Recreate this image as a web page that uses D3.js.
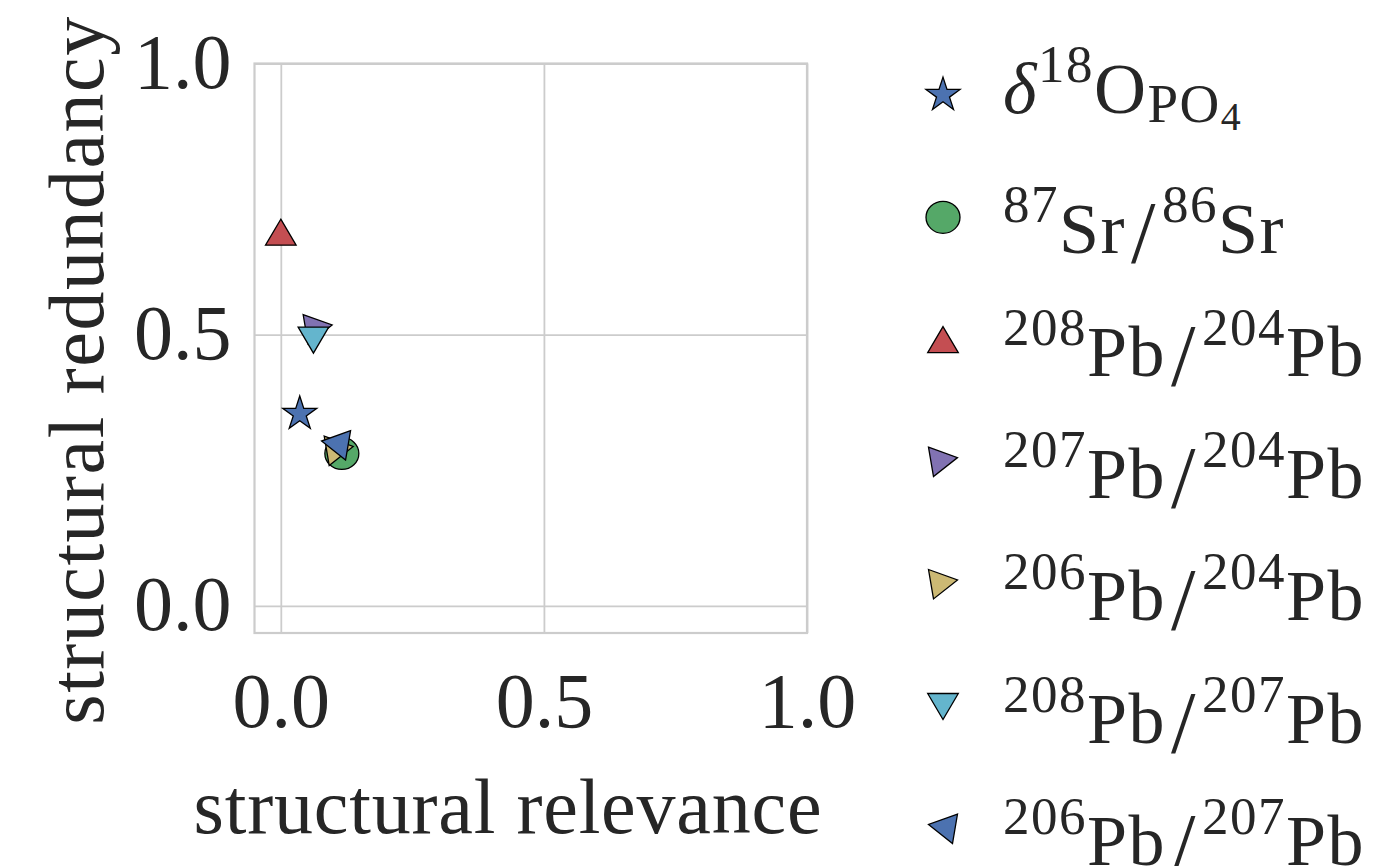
<!doctype html>
<html>
<head>
<script src="https://cdnjs.cloudflare.com/ajax/libs/d3/7.8.5/d3.min.js"></script>
<style>
    body { margin: 0; background: #fff; }
    svg { display: block; }
    text { font-family: "Liberation Serif", "DejaVu Serif", serif; fill: #262626; }
</style>
</head>
<body>
<svg width="1380" height="866"></svg>
<script>
    // values
    var relevance = [0.036, 0.116, 0.0, 0.07, 0.110, 0.062, 0.105];
    var redundancy = [0.354, 0.281, 0.689, 0.51, 0.286, 0.490, 0.296];
    var markers = ["star", "circle", "up", "right", "right", "down", "left"];
    var colors = ["#4C72B0", "#55A868", "#C44E52", "#8172B2", "#CCB974", "#64B5CD", "#4C72B0"];
    var tickValues = [0.0, 0.5, 1.0];
    var labelParts = [
        [["δ", "it"], ["18", "sup"], ["O", "n"], ["PO", "sub"], ["4", "subsub"]],
        [["87", "sup"], ["Sr", "n"], ["/", "slash"], ["86", "sup"], ["Sr", "n"]],
        [["208", "sup"], ["Pb", "n"], ["/", "slash"], ["204", "sup"], ["Pb", "n"]],
        [["207", "sup"], ["Pb", "n"], ["/", "slash"], ["204", "sup"], ["Pb", "n"]],
        [["206", "sup"], ["Pb", "n"], ["/", "slash"], ["204", "sup"], ["Pb", "n"]],
        [["208", "sup"], ["Pb", "n"], ["/", "slash"], ["207", "sup"], ["Pb", "n"]],
        [["206", "sup"], ["Pb", "n"], ["/", "slash"], ["207", "sup"], ["Pb", "n"]]
    ];

    var svg = d3.select("svg");
    var plotLeft = 254.5, plotRight = 807, plotTop = 63.5, plotBottom = 633;

    var x = d3.scaleLinear().domain([-0.05, 1.0]).range([plotLeft, plotRight]);
    var y = d3.scaleLinear().domain([-0.05, 1.0]).range([plotBottom, plotTop]);

    var gridColor = "#cccccc";

    // grid
    var gx = svg.append("g")
        .attr("transform", "translate(0," + plotBottom + ")")
        .call(d3.axisBottom(x).tickValues(tickValues).tickSize(-(plotBottom - plotTop)).tickFormat(""));
    var gy = svg.append("g")
        .attr("transform", "translate(" + plotLeft + ",0)")
        .call(d3.axisLeft(y).tickValues(tickValues).tickSize(-(plotRight - plotLeft)).tickFormat(""));
    [gx, gy].forEach(function (g) {
        g.select(".domain").remove();
        g.selectAll("line").attr("stroke", gridColor).attr("stroke-width", 1.8);
    });

    // frame
    svg.append("rect")
        .attr("x", plotLeft).attr("y", plotTop)
        .attr("width", plotRight - plotLeft).attr("height", plotBottom - plotTop)
        .attr("fill", "none").attr("stroke", gridColor).attr("stroke-width", 2.2);

    // tick labels
    var fmt = d3.format(".1f");
    var tx = svg.append("g")
        .attr("transform", "translate(0," + plotBottom + ")")
        .call(d3.axisBottom(x).tickValues(tickValues).tickSize(0).tickFormat(fmt));
    tx.selectAll("text").attr("y", 94).attr("dy", null);
    var ty = svg.append("g")
        .attr("transform", "translate(" + plotLeft + ",0)")
        .call(d3.axisLeft(y).tickValues(tickValues).tickSize(0).tickFormat(fmt));
    ty.selectAll("text").attr("x", -23).attr("y", 24).attr("dy", null);
    [tx, ty].forEach(function (g) {
        g.select(".domain").remove();
        g.attr("font-family", null).attr("font-size", null);
        g.selectAll("text").style("font-size", "78px").attr("fill", "#262626");
    });

    // axis labels
    svg.append("text")
        .attr("x", 508).attr("y", 833)
        .attr("text-anchor", "middle")
        .style("font-size", "78px").style("letter-spacing", "0.8px")
        .text("structural relevance");
    svg.append("text")
        .attr("transform", "translate(103,370) rotate(-90)")
        .attr("text-anchor", "middle")
        .style("font-size", "78px").style("letter-spacing", "1.5px")
        .text("structural redundancy");

    // marker shapes
    function poly(pts) { return "M" + pts.map(function (p) { return p.join(","); }).join("L") + "Z"; }
    function shape(m) {
        if (m == "star") return d3.symbol(d3.symbolStar, 360)();
        if (m == "circle") return "M-17,0A17,16 0 1,1 17,0A17,16 0 1,1 -17,0Z";
        if (m == "up") return poly([[0, -13], [15.3, 13], [-15.3, 13]]);
        if (m == "down") return poly([[-15.3, -13], [15.3, -13], [0, 13]]);
        if (m == "right") return poly([[-14.5, -14.7], [14.5, -4.3], [-9.5, 14.7]]);
        return poly([[14.5, -14.7], [-14.5, -4.3], [9.5, 14.7]]);
    }

    svg.append("g").selectAll("path")
        .data(relevance)
        .enter().append("path")
        .attr("transform", function (d, i) { return "translate(" + x(d) + "," + y(redundancy[i]) + ")"; })
        .attr("d", function (d, i) { return shape(markers[i]); })
        .attr("fill", function (d, i) { return colors[i]; })
        .attr("stroke", "#000")
        .attr("stroke-width", 1.3);

    // legend
    var legX = 943, legTextX = 1003, legY0 = 95, legStep = 122.3;
    var sizes = { n: 72, it: 72, sup: 53, sub: 55, subsub: 40, slash: 88 };
    var shifts = { n: 0, it: 0, sup: -31, sub: 9, subsub: 17, slash: 9 };

    var leg = svg.append("g");
    labelParts.forEach(function (parts, i) {
        var cy = legY0 + i * legStep;
        leg.append("path")
            .attr("transform", "translate(" + legX + "," + cy + ")")
            .attr("d", shape(markers[i]))
            .attr("fill", colors[i])
            .attr("stroke", "#000")
            .attr("stroke-width", 1.3);

        var hasSub = parts.some(function (p) { return p[1] == "sub"; });
        var t = leg.append("text")
            .attr("x", legTextX)
            .attr("y", cy + (hasSub ? 18 : 36))
            .style("letter-spacing", "1.5px");
        var cur = 0, afterSlash = false;
        parts.forEach(function (p) {
            var s = t.append("tspan")
                .attr("dy", shifts[p[1]] - cur)
                .style("font-size", sizes[p[1]] + "px")
                .text(p[0]);
            if (p[1] == "it") s.style("font-style", "italic");
            if (p[1] == "slash" || afterSlash) s.attr("dx", 5);
            afterSlash = p[1] == "slash";
            cur = shifts[p[1]];
        });
    });
</script>
</body>
</html>
